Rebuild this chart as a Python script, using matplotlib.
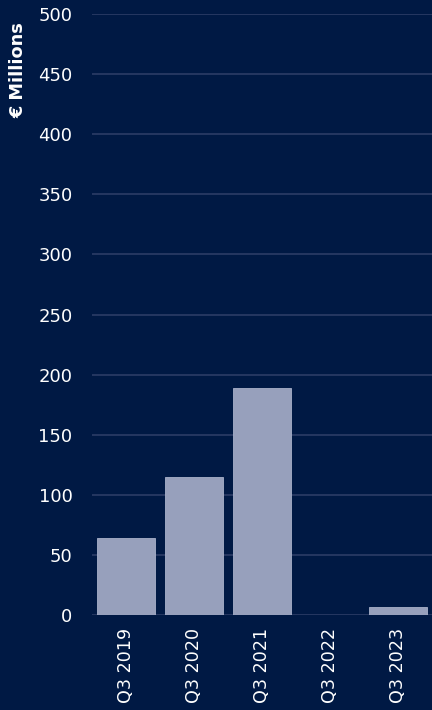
import matplotlib
matplotlib.use("Agg")
import matplotlib.pyplot as plt

categories = ["Q3 2019", "Q3 2020", "Q3 2021", "Q3 2022", "Q3 2023"]
values = [64, 115, 189, 0, 7]
yticks = [0, 50, 100, 150, 200, 250, 300, 350, 400, 450, 500]

BG = "#001944"
BAR = "#97a0bc"
GRID = "#2c3c66"
TXT = "#ffffff"

plt.rcParams['font.family'] = ['DejaVu Sans']

fig = plt.figure(figsize=(4.32, 7.10), dpi=100, facecolor=BG)
ax = fig.add_axes([92/432, 1 - 615/710, 1 - 92/432, (615 - 14)/710])
ax.set_facecolor(BG)

x = list(range(len(categories)))
ax.bar(x, values, width=0.85, color=BAR, edgecolor="#a9b1ca", linewidth=0.6, zorder=3)

ax.set_xlim(-0.5, len(categories) - 0.5)
ax.set_ylim(0, 500)
ax.set_yticks(yticks)
ax.set_yticklabels([str(t) for t in yticks])
ax.set_xticks(x)
ax.set_xticklabels(categories, rotation=90)

ax.grid(axis='y', color=GRID, linewidth=1.2, zorder=0)
ax.set_axisbelow(True)
for s in ax.spines.values():
    s.set_visible(False)
ax.tick_params(axis='y', length=0, pad=14, labelsize=13, labelcolor=TXT)
ax.tick_params(axis='x', length=0, pad=9, labelsize=12.6, labelcolor=TXT)

fig.text(18/432, 1 - 22/710, "€ Millions", rotation=90, color=TXT, fontsize=12.8,
         fontweight='bold', ha='center', va='top')

fig.savefig("out.png", dpi=100, facecolor=BG)
